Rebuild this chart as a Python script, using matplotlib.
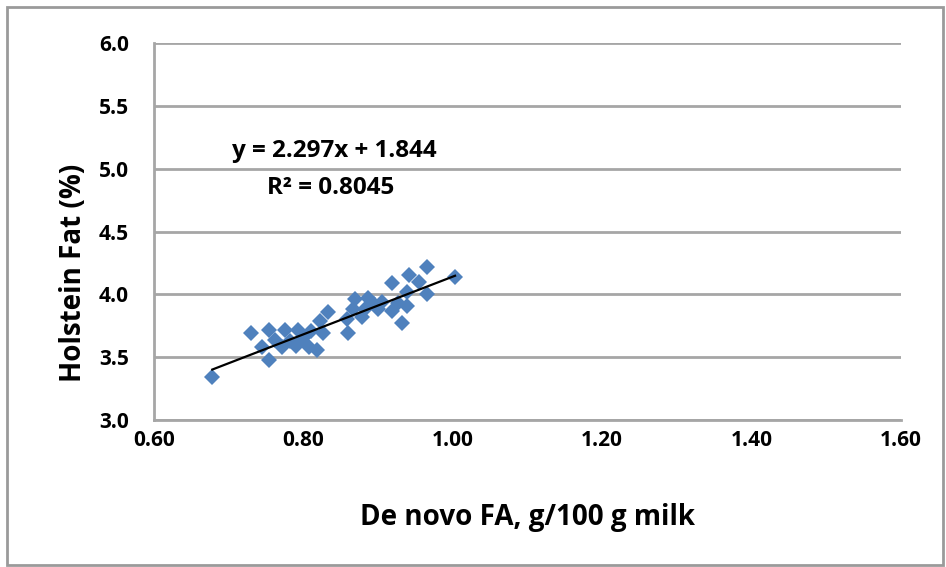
import numpy as np
import matplotlib.pyplot as plt
from matplotlib.patches import Rectangle

# De novo fatty acids (g/100 g milk) vs fat percentage, Holstein herds
de_novo = [0.678, 0.730, 0.754, 0.745, 0.754, 0.762, 0.775, 0.772, 0.782, 0.793,
           0.790, 0.800, 0.810, 0.808, 0.818, 0.826, 0.822, 0.833, 0.860, 0.858,
           0.866, 0.869, 0.878, 0.882, 0.886, 0.895, 0.900, 0.905, 0.919, 0.927,
           0.919, 0.932, 0.939, 0.941, 0.939, 0.955, 0.965, 0.965, 1.003]
fat_pct = [3.34, 3.69, 3.72, 3.58, 3.48, 3.64, 3.72, 3.58, 3.63, 3.72,
           3.59, 3.65, 3.71, 3.58, 3.56, 3.69, 3.79, 3.86, 3.69, 3.80,
           3.88, 3.96, 3.82, 3.88, 3.97, 3.92, 3.88, 3.94, 3.87, 3.93,
           4.09, 3.77, 4.02, 4.15, 3.91, 4.10, 4.22, 4.00, 4.14]

slope, intercept, r2 = 2.297, 1.844, 0.8045

x_ticks = [0.60, 0.80, 1.00, 1.20, 1.40, 1.60]
y_ticks = [3.0, 3.5, 4.0, 4.5, 5.0, 5.5, 6.0]

plt.rcParams["font.family"] = ["Open Sans", "DejaVu Sans"]

fig = plt.figure(figsize=(9.46, 5.67), dpi=100)
ax = fig.add_axes([154 / 946, 1 - 420 / 567, (901 - 154) / 946, (420 - 43) / 567])

grid_color = "#a6a6a6"
ax.plot(de_novo, fat_pct, linestyle="none", marker="D", markersize=8,
        color="#4f81bd", markeredgewidth=0, zorder=3)

# 线性趋势线
xs = np.array([min(de_novo), max(de_novo)])
ax.plot(xs, slope * xs + intercept, color="black", lw=1.6, zorder=4)

ax.set_xlim(0.6, 1.6)
ax.set_ylim(3.0, 6.0)
ax.set_xticks(x_ticks)
ax.set_xticklabels([f"{v:.2f}" for v in x_ticks])
ax.set_yticks(y_ticks)
ax.set_yticklabels([f"{v:.1f}" for v in y_ticks])
ax.tick_params(length=0, labelsize=15)
ax.tick_params(axis="x", pad=7)
ax.tick_params(axis="y", pad=18)
for lab in ax.get_xticklabels() + ax.get_yticklabels():
    lab.set_fontweight("bold")

ax.grid(axis="y", color=grid_color, lw=2)
ax.set_axisbelow(True)
for side in ["top", "right"]:
    ax.spines[side].set_visible(False)
for side in ["left", "bottom"]:
    ax.spines[side].set_color(grid_color)
    ax.spines[side].set_linewidth(2)

ax.set_xlabel("De novo FA, g/100 g milk", fontsize=20, fontweight="bold", labelpad=38)
ax.set_ylabel("Holstein Fat (%)", fontsize=20, fontweight="bold")
ax.yaxis.set_label_coords(-0.088, 0.39)

ax.text(0.842, 5.14, f"y = {slope}x + {intercept}", fontsize=17.5, fontweight="bold",
        ha="center", va="center")
ax.text(0.837, 4.85, f"R² = {r2}", fontsize=17.5, fontweight="bold",
        ha="center", va="center")

# 外框
fig.patches.append(Rectangle((7 / 946, 2 / 567), 936 / 946, 558 / 567,
                             transform=fig.transFigure, fill=False,
                             edgecolor="#9a9a9a", lw=2))

fig.savefig("out.png", dpi=100)
